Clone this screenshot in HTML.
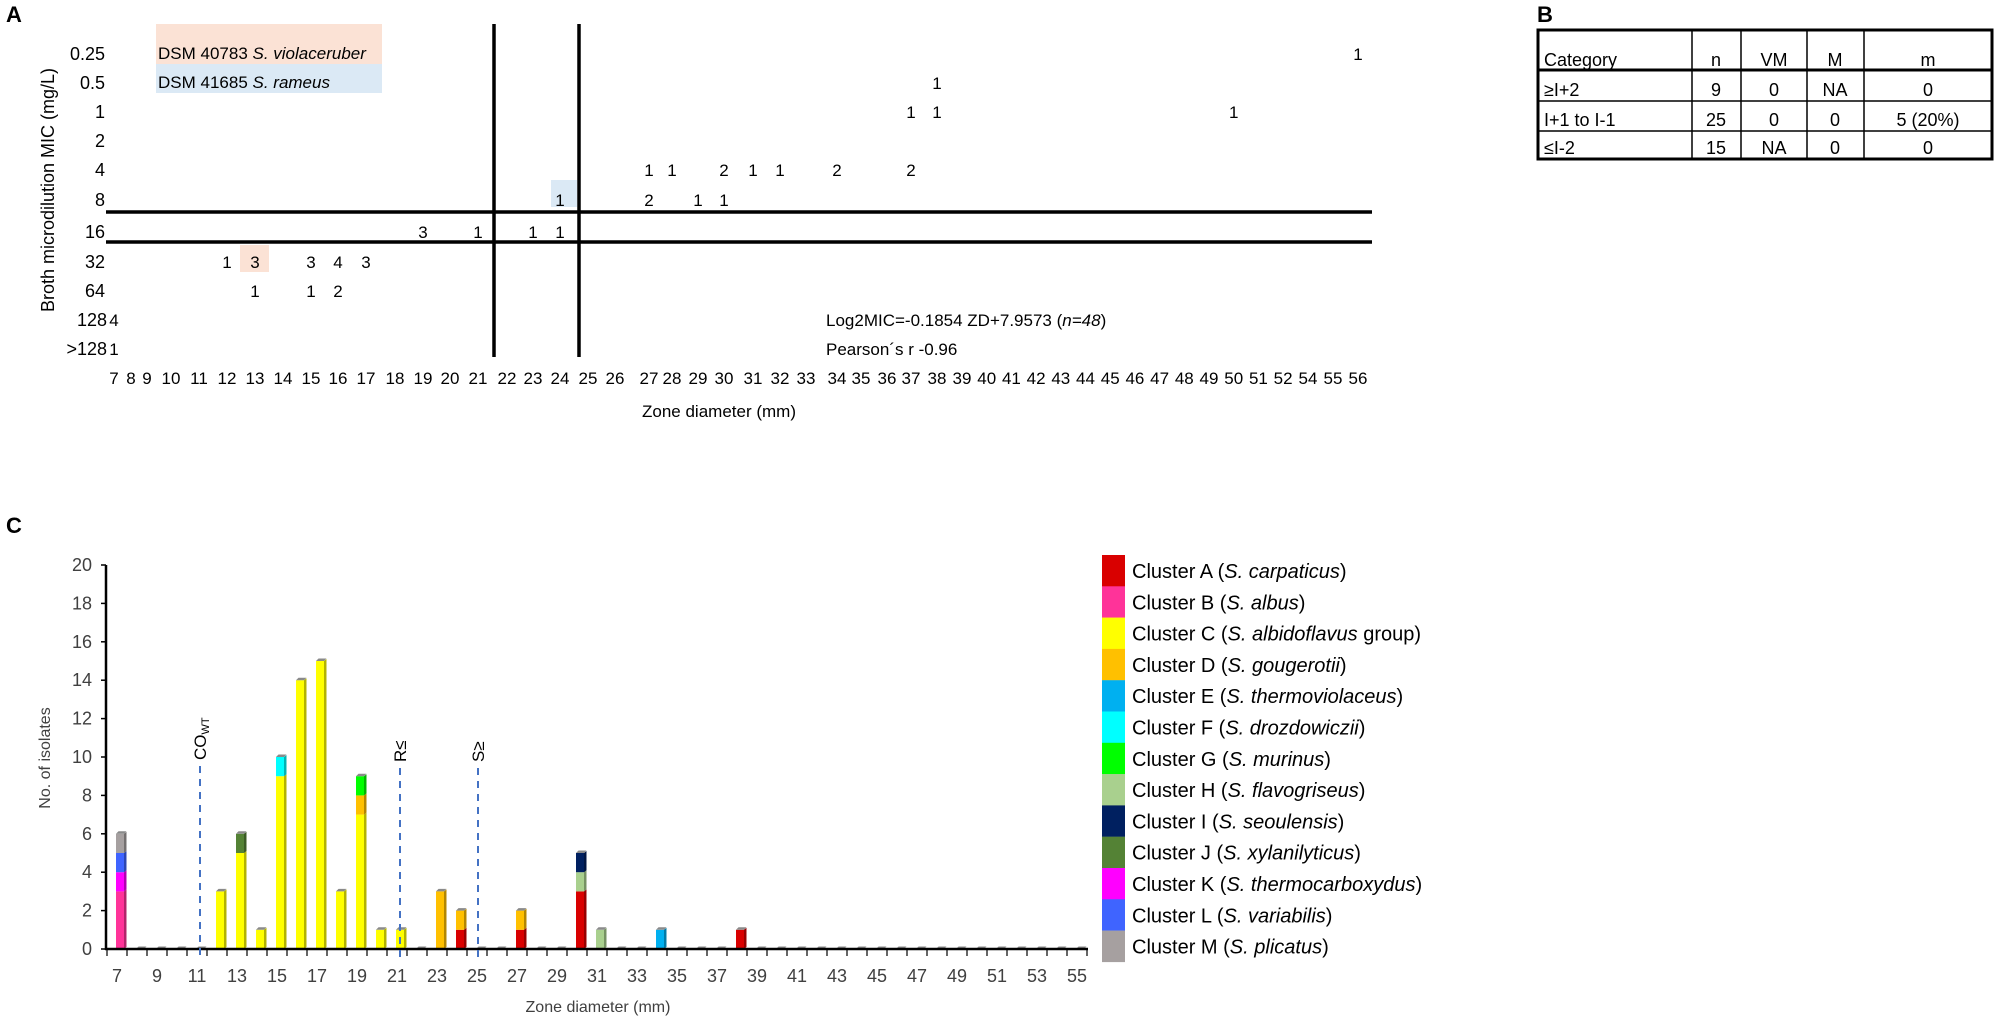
<!DOCTYPE html>
<html><head><meta charset="utf-8"><style>
html,body{margin:0;padding:0;background:#fff;}
svg{display:block;font-family:"Liberation Sans",sans-serif;}
</style></head><body>
<svg id="s" width="1995" height="1018" viewBox="0 0 1995 1018" xmlns="http://www.w3.org/2000/svg">
<!-- Panel A -->
<text x="6" y="22" font-size="22" font-weight="bold">A</text>
<rect x="156" y="24" width="226" height="40" fill="#fbe2d5"/>
<rect x="156" y="64" width="226" height="29" fill="#dbe9f5"/>
<rect x="551" y="180" width="26" height="27" fill="#dbe9f5"/>
<rect x="240" y="245" width="29" height="27" fill="#fbe2d5"/>
<text x="158" y="59" font-size="17">DSM 40783 <tspan font-style="italic">S. violaceruber</tspan></text>
<text x="158" y="88" font-size="17">DSM 41685 <tspan font-style="italic">S. rameus</tspan></text>
<text transform="translate(54,190) rotate(-90)" text-anchor="middle" font-size="18">Broth microdilution MIC (mg/L)</text>
<g font-size="18" text-anchor="end">
<text x="105" y="60">0.25</text><text x="105" y="89">0.5</text><text x="105" y="118">1</text>
<text x="105" y="147">2</text><text x="105" y="176">4</text><text x="105" y="206">8</text>
<text x="105" y="238">16</text><text x="105" y="268">32</text><text x="105" y="297">64</text>
<text x="107" y="326">128</text><text x="107" y="355">&gt;128</text>
</g>
<g stroke="#000" stroke-width="3.5">
<line x1="106" y1="212" x2="1372" y2="212"/>
<line x1="106" y1="242" x2="1372" y2="242"/>
<line x1="494" y1="24" x2="494" y2="357"/>
<line x1="579" y1="24" x2="579" y2="357"/>
</g>
<g id="adata" font-size="17" text-anchor="middle"></g>
<g id="alab" font-size="17" text-anchor="middle"></g>
<text x="719" y="417" font-size="17" text-anchor="middle">Zone diameter (mm)</text>
<text x="826" y="326" font-size="17">Log2MIC=-0.1854 ZD+7.9573 (<tspan font-style="italic">n=48</tspan>)</text>
<text x="826" y="355" font-size="17">Pearson´s r -0.96</text>

<!-- Panel B -->
<text x="1537" y="22" font-size="22" font-weight="bold">B</text>
<g font-size="18">
<rect x="1538" y="30" width="454" height="129" fill="none" stroke="#000" stroke-width="3"/>
<line x1="1538" y1="70" x2="1992" y2="70" stroke="#000" stroke-width="3"/>
<line x1="1538" y1="101" x2="1992" y2="101" stroke="#000" stroke-width="1.5"/>
<line x1="1538" y1="131" x2="1992" y2="131" stroke="#000" stroke-width="1.5"/>
<g stroke="#000" stroke-width="1.5">
<line x1="1692" y1="30" x2="1692" y2="159"/><line x1="1741" y1="30" x2="1741" y2="159"/>
<line x1="1807" y1="30" x2="1807" y2="159"/><line x1="1864" y1="30" x2="1864" y2="159"/>
</g>
<text x="1544" y="66">Category</text><text x="1544" y="96">≥I+2</text><text x="1544" y="126">I+1 to I-1</text><text x="1544" y="154">≤I-2</text>
<g text-anchor="middle">
<text x="1716" y="66">n</text><text x="1774" y="66">VM</text><text x="1835" y="66">M</text><text x="1928" y="66">m</text>
<text x="1716" y="96">9</text><text x="1774" y="96">0</text><text x="1835" y="96">NA</text><text x="1928" y="96">0</text>
<text x="1716" y="126">25</text><text x="1774" y="126">0</text><text x="1835" y="126">0</text><text x="1928" y="126">5 (20%)</text>
<text x="1716" y="154">15</text><text x="1774" y="154">NA</text><text x="1835" y="154">0</text><text x="1928" y="154">0</text>
</g>
</g>

<!-- Panel C -->
<text x="6" y="533" font-size="22" font-weight="bold">C</text>
<text transform="translate(50,758) rotate(-90)" text-anchor="middle" font-size="16" fill="#404040">No. of isolates</text>
<g id="cy" font-size="18" fill="#404040" text-anchor="end"></g>
<g id="cbars"></g>
<line x1="106" y1="565" x2="106" y2="950" stroke="#000" stroke-width="2.5"/>
<line x1="105" y1="949" x2="1088" y2="949" stroke="#000" stroke-width="2.5"/>
<g id="cx" font-size="18" fill="#404040" text-anchor="middle"></g>
<text x="598" y="1012" font-size="16" fill="#404040" text-anchor="middle">Zone diameter (mm)</text>
<g stroke="#4472c4" stroke-width="2" stroke-dasharray="7,6">
<line x1="200" y1="766" x2="200" y2="960"/>
<line x1="400" y1="768" x2="400" y2="960"/>
<line x1="478" y1="768" x2="478" y2="960"/>
</g>
<g font-size="17">
<text transform="translate(206,760) rotate(-90)">CO<tspan font-size="11" dy="3">WT</tspan></text>
<text transform="translate(406,762) rotate(-90)">R≤</text>
<text transform="translate(484,762) rotate(-90)">S≥</text>
</g>
<g id="leg" font-size="20"></g>
</svg>
<script>
var NS="http://www.w3.org/2000/svg";
function el(p,t,a,txt){var e=document.createElementNS(NS,t);for(var k in a)e.setAttribute(k,a[k]);if(txt!=null)e.textContent=txt;document.getElementById(p).appendChild(e);return e;}
var X={7:114,8:131,9:147,10:171,11:199,12:227,13:255,14:283,15:311,16:338,17:366,18:395,19:423,20:450,21:478,22:507,23:533,24:560,25:588,26:615,27:649,28:672,29:698,30:724,31:753,32:780,33:806,34:837,35:861,36:887,37:911,38:937};
var d=39,x=962;for(;d<=52;d++){X[d]=x;x+=24.7;}X[54]=1308;X[55]=1333;X[56]=1358;
var labs=[];for(var i=7;i<=52;i++)labs.push(i);labs.push(54,55,56);
labs.forEach(function(l){el("alab","text",{x:X[l],y:384},l);});
var RY={"0.25":60,"0.5":89,"1":118,"2":147,"4":176,"8":206,"16":238,"32":268,"64":297,"128":326,">128":355};
var D=[["128",7,4],[">128",7,1],["32",12,1],["32",13,3],["32",15,3],["32",16,4],["32",17,3],["64",13,1],["64",15,1],["64",16,2],
["16",19,3],["16",21,1],["16",23,1],["16",24,1],["8",24,1],["8",27,2],["8",29,1],["8",30,1],
["4",27,1],["4",28,1],["4",30,2],["4",31,1],["4",32,1],["4",34,2],["4",37,2],["1",37,1],["1",38,1],["1",50,1],["0.5",38,1],["0.25",56,1]];
D.forEach(function(r){el("adata","text",{x:X[r[1]],y:RY[r[0]]},r[2]);});
function yv(v){return 949-v*19.2;}
for(var v=0;v<=20;v+=2){el("cy","text",{x:92,y:yv(v)+6},v);el("cy","line",{x1:101,y1:yv(v),x2:106,y2:yv(v),stroke:"#000","stroke-width":1.5});}
for(var k=0;k<=49;k++){el("cx","line",{x1:107+k*20,y1:949,x2:107+k*20,y2:956,stroke:"#000","stroke-width":1.2});}
for(var dd=7;dd<=55;dd+=2){el("cx","text",{x:117+(dd-7)*20,y:982},dd);}
var C={A:"#d90000",B:"#ff3399",C:"#ffff00",D:"#ffc000",E:"#00b0f0",F:"#00ffff",G:"#00ff00",H:"#a9d08e",I:"#002060",J:"#548235",K:"#ff00ff",L:"#3f64ff",M:"#a6a0a0"};
var S={7:[["B",3],["K",1],["L",1],["M",1]],12:[["C",3]],13:[["C",5],["J",1]],14:[["C",1]],15:[["C",9],["F",1]],16:[["C",14]],17:[["C",15]],18:[["C",3]],19:[["C",7],["D",1],["G",1]],20:[["C",1]],21:[["C",1]],23:[["D",3]],24:[["A",1],["D",1]],27:[["A",1],["D",1]],30:[["A",3],["H",1],["I",1]],31:[["H",1]],34:[["E",1]],38:[["A",1]]};
function shade(h){var n=parseInt(h.slice(1),16),r=(n>>16)&255,g=(n>>8)&255,b=n&255;return "rgb("+Math.round(r*.7)+","+Math.round(g*.7)+","+Math.round(b*.7)+")";}
for(var z=7;z<=55;z++){
 var bx=107+(z-7)*20+9, st=S[z]||[], base=0;
 st.forEach(function(s){var y1=yv(base+s[1]),y0=yv(base);
  el("cbars","rect",{x:bx,y:y1,width:8,height:y0-y1,fill:C[s[0]]});
  el("cbars","polygon",{points:(bx+8)+","+y1+" "+(bx+10.5)+","+(y1-2)+" "+(bx+10.5)+","+(y0-2)+" "+(bx+8)+","+y0,fill:shade(C[s[0]])});
  base+=s[1];});
 var ty=yv(base);
 el("cbars","polygon",{points:bx+","+ty+" "+(bx+2.5)+","+(ty-2.5)+" "+(bx+10.5)+","+(ty-2.5)+" "+(bx+8)+","+ty,fill:"#8a8a8a"});
}
var L=[["A","carpaticus",""],["B","albus",""],["C","albidoflavus"," group"],["D","gougerotii",""],["E","thermoviolaceus",""],["F","drozdowiczii",""],["G","murinus",""],["H","flavogriseus",""],["I","seoulensis",""],["J","xylanilyticus",""],["K","thermocarboxydus",""],["L","variabilis",""],["M","plicatus",""]];
L.forEach(function(l,i){var y=555+i*31.3;
 el("leg","rect",{x:1102,y:y,width:23,height:31.5,fill:C[l[0]]});
 var t=el("leg","text",{x:1132,y:y+23});
 t.innerHTML="Cluster "+l[0]+" (<tspan font-style='italic'>S. "+l[1]+"</tspan>"+l[2]+")";
});
</script>
</body></html>
